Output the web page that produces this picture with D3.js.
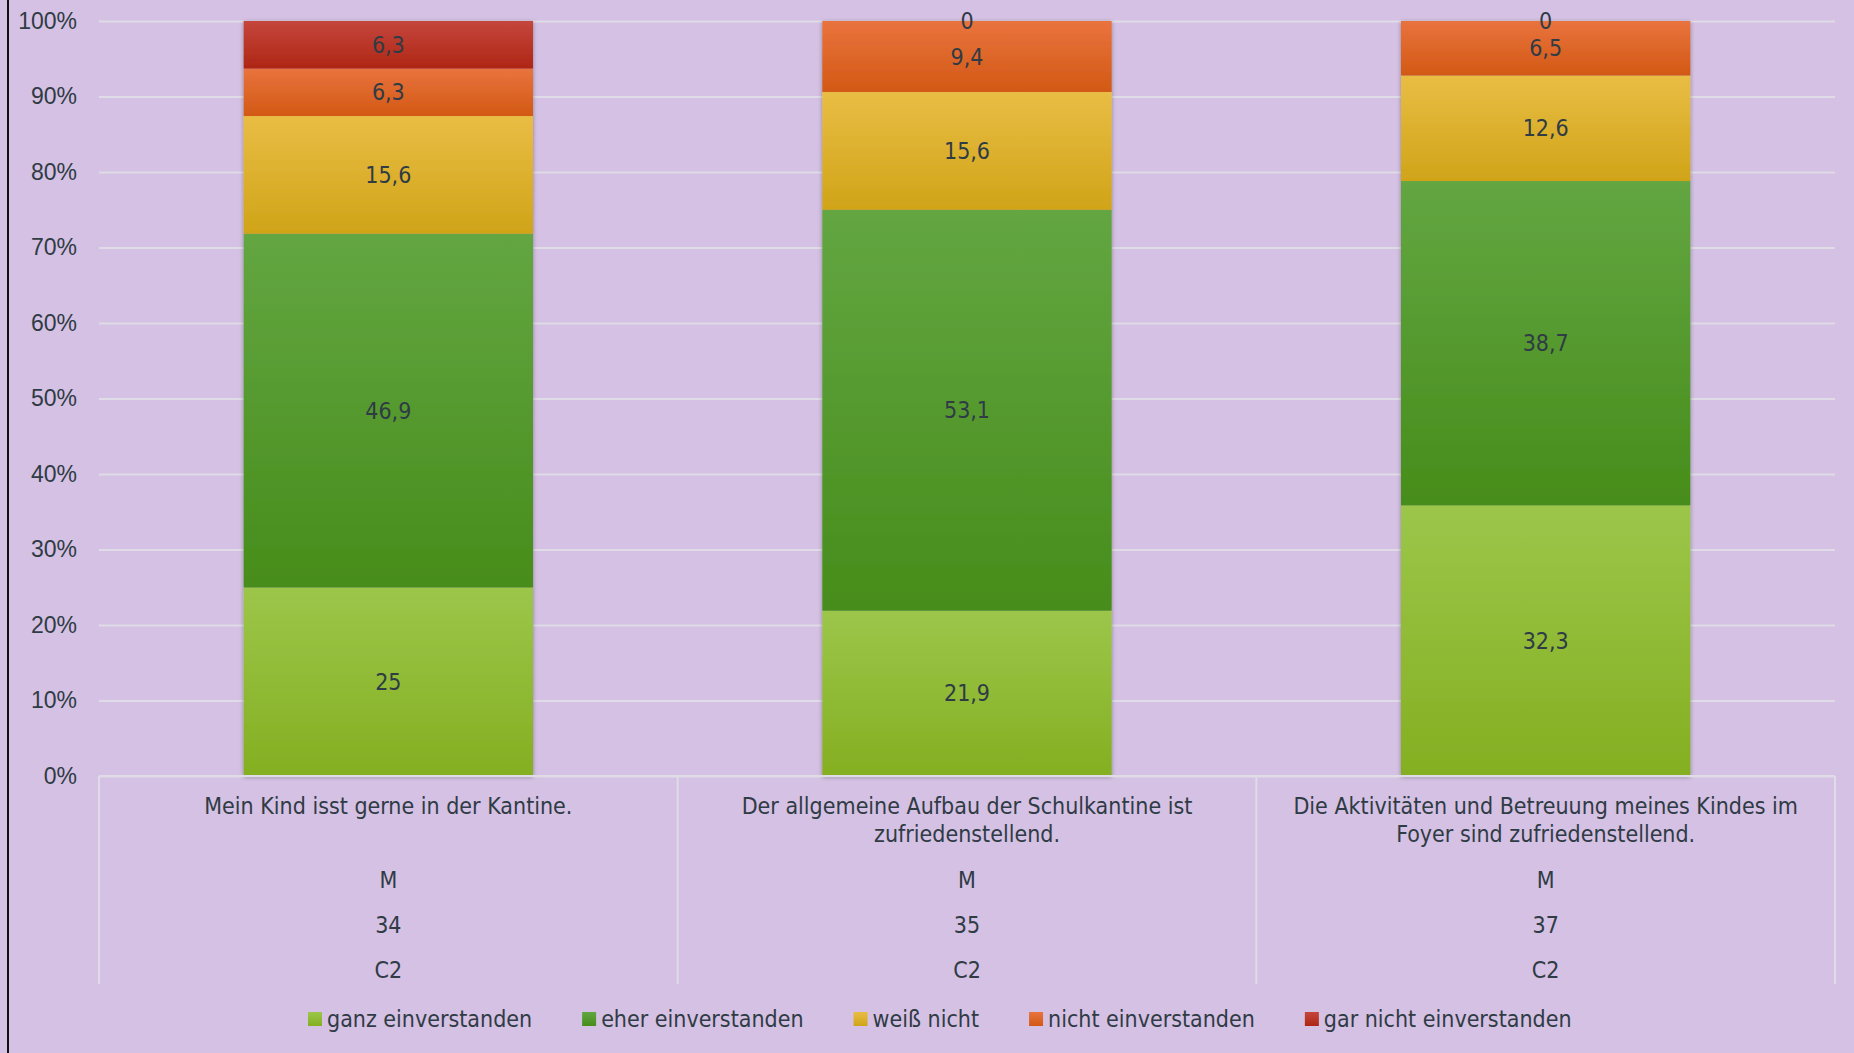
<!DOCTYPE html>
<html>
<head>
<meta charset="utf-8">
<script src="https://cdn.jsdelivr.net/npm/d3@7"></script>
<style>
  html, body { margin: 0; padding: 0; background: #d5c1e3; }
  svg { display: block; font-family: "DejaVu Sans Condensed", "DejaVu Sans", sans-serif; font-stretch: condensed; }
</style>
</head>
<body>
<svg id="chart" width="1854" height="1053"></svg>
<script>
// categories and the lower rows of the category axis
const categories = [
  "Mein Kind isst gerne in der Kantine.",
  "Der allgemeine Aufbau der Schulkantine ist zufriedenstellend.",
  "Die Aktivitäten und Betreuung meines Kindes im Foyer sind zufriedenstellend."
];
const rowGender = ["M", "M", "M"];
const rowCount  = ["34", "35", "37"];
const rowLevel  = ["C2", "C2", "C2"];

// series (shares in %)
const seriesNames = ["ganz einverstanden", "eher einverstanden", "weiß nicht", "nicht einverstanden", "gar nicht einverstanden"];
const ganzEinverstanden     = [25, 21.9, 32.3];
const eherEinverstanden     = [46.9, 53.1, 38.7];
const weissNicht            = [15.6, 15.6, 12.6];
const nichtEinverstanden    = [6.3, 9.4, 6.5];
const garNichtEinverstanden = [6.3, 0, 0];

const yTickValues = [0, 0.1, 0.2, 0.3, 0.4, 0.5, 0.6, 0.7, 0.8, 0.9, 1];

// top / bottom colour of each series gradient
const seriesColors = [
  ["#9cc64a", "#84af21"],
  ["#63a642", "#478d1b"],
  ["#e9bd44", "#d0a418"],
  ["#e9733e", "#d25914"],
  ["#c5463c", "#ae2615"]
];

class stackedChart {
  init(element){
    let $this = this;
    $this.svg = d3.select(element);
    $this.textColor = "#2f3b45";
    $this.gridColor = "#dfdbe7";
    $this.fontSize = 23;
    $this.left = 99; $this.right = 1835;
    $this.top = 21;  $this.bottom = 776;
    $this.tableBottom = 984;

    const values = [ganzEinverstanden, eherEinverstanden, weissNicht, nichtEinverstanden, garNichtEinverstanden];
    $this.rows = categories.map((c, i) => {
      let r = { category: c };
      seriesNames.forEach((s, j) => r[s] = values[j][i]);
      return r;
    });
    $this.stack = d3.stack().keys(seriesNames).offset(d3.stackOffsetExpand)($this.rows);

    $this.x = d3.scaleBand().domain(categories).range([$this.left, $this.right])
                .paddingInner(0.5).paddingOuter(0.25);
    $this.y = d3.scaleLinear().domain([0, 1]).range([$this.bottom, $this.top]);
  }
  draw(){
    let $this = this;
    let svg = $this.svg;
    let x = $this.x, y = $this.y;

    let defs = svg.append("defs");
    seriesNames.forEach((s, i) => {
      let g = defs.append("linearGradient").attr("id", "grad" + i)
                  .attr("x1", 0).attr("y1", 0).attr("x2", 0).attr("y2", 1);
      g.append("stop").attr("offset", "0%").attr("stop-color", seriesColors[i][0]);
      g.append("stop").attr("offset", "100%").attr("stop-color", seriesColors[i][1]);
    });
    defs.append("filter").attr("id", "shadow")
        .attr("x", "-5%").attr("y", "-5%").attr("width", "110%").attr("height", "110%")
      .append("feDropShadow").attr("dx", 0).attr("dy", 1).attr("stdDeviation", 2)
        .attr("flood-color", "#000").attr("flood-opacity", 0.35);

    svg.append("rect").attr("width", 1854).attr("height", 1053).attr("fill", "#d5c1e3");
    // slide border on the left
    svg.append("line").attr("x1", 8).attr("x2", 8).attr("y1", 0).attr("y2", 1053)
       .attr("stroke", "#111").attr("stroke-width", 2);

    // gridlines + y labels
    let yAxis = svg.append("g")
      .attr("transform", "translate(" + $this.left + ",0)")
      .call(d3.axisLeft(y).tickValues(yTickValues).tickFormat(d3.format(".0%"))
              .tickSize(-($this.right - $this.left)).tickPadding(22));
    yAxis.select(".domain").remove();
    yAxis.selectAll(".tick line").attr("stroke", $this.gridColor).attr("stroke-width", 2);
    yAxis.selectAll(".tick text").attr("fill", $this.textColor)
         .attr("font-size", $this.fontSize).attr("font-family", null);

    // bars
    let barGroup = svg.append("g").attr("filter", "url(#shadow)");
    barGroup.selectAll("g")
      .data($this.stack)
      .join("g")
      .attr("fill", (d, i) => "url(#grad" + i + ")")
      .selectAll("rect")
      .data(d => d)
      .join("rect")
      .attr("x", d => x(d.data.category))
      .attr("width", x.bandwidth())
      .attr("y", d => y(d[1]))
      .attr("height", d => y(d[0]) - y(d[1]));

    // value labels
    let fmt = v => String(v).replace(".", ",");
    svg.append("g")
      .attr("font-size", $this.fontSize)
      .attr("fill", $this.textColor)
      .attr("text-anchor", "middle")
      .selectAll("g")
      .data($this.stack)
      .join("g")
      .selectAll("text")
      .data(d => d.map(p => ({ p: p, key: d.key })))
      .join("text")
      .attr("x", d => x(d.p.data.category) + x.bandwidth() / 2)
      .attr("y", d => y((d.p[0] + d.p[1]) / 2))
      .attr("dy", "0.35em")
      .text(d => fmt(d.p.data[d.key]));

    // category table
    let step = x.step();
    let table = svg.append("g").attr("stroke", $this.gridColor).attr("stroke-width", 2);
    table.append("line").attr("x1", $this.left).attr("x2", $this.right)
         .attr("y1", $this.bottom).attr("y2", $this.bottom);
    d3.range(categories.length + 1).forEach(i => {
      let xx = $this.left + i * step;
      table.append("line").attr("x1", xx).attr("x2", xx)
           .attr("y1", $this.bottom).attr("y2", $this.tableBottom);
    });

    let labels = svg.append("g")
      .attr("font-size", $this.fontSize)
      .attr("fill", $this.textColor)
      .attr("text-anchor", "middle");
    categories.forEach((c, i) => {
      let cx = x(c) + x.bandwidth() / 2;
      let t = labels.append("text").attr("x", cx).attr("y", 806).attr("dy", "0.35em");
      $this.wrap(t, c, step - 45, cx, 28);
      [rowGender[i], rowCount[i], rowLevel[i]].forEach((v, k) => {
        labels.append("text").attr("x", cx).attr("y", 880 + k * 45)
              .attr("dy", "0.35em").text(v);
      });
    });

    // legend
    let legend = svg.append("g").attr("font-size", $this.fontSize).attr("fill", $this.textColor);
    let lx = 308, ly = 1019;
    seriesNames.forEach((s, i) => {
      legend.append("rect").attr("x", lx).attr("y", ly - 7).attr("width", 14).attr("height", 14)
            .attr("fill", "url(#grad" + i + ")");
      let t = legend.append("text").attr("x", lx + 19).attr("y", ly).attr("dy", "0.35em").text(s);
      lx += 19 + t.node().getComputedTextLength() + 50;
    });
  }
  wrap(text, str, width, cx, lineHeight){
    let words = str.split(" ");
    let lines = [], line = [];
    let tspan = text.append("tspan").attr("x", cx);
    words.forEach(w => {
      line.push(w);
      tspan.text(line.join(" "));
      if (tspan.node().getComputedTextLength() > width && line.length > 1) {
        line.pop();
        lines.push(line.join(" "));
        line = [w];
      }
    });
    lines.push(line.join(" "));
    tspan.remove();
    lines.forEach((l, i) => {
      text.append("tspan").attr("x", cx).attr("dy", i === 0 ? "0.35em" : lineHeight).text(l);
    });
    text.attr("dy", null);
  }
}

let chart = new stackedChart();
chart.init(document.getElementById("chart"));
chart.draw();
</script>
</body>
</html>
